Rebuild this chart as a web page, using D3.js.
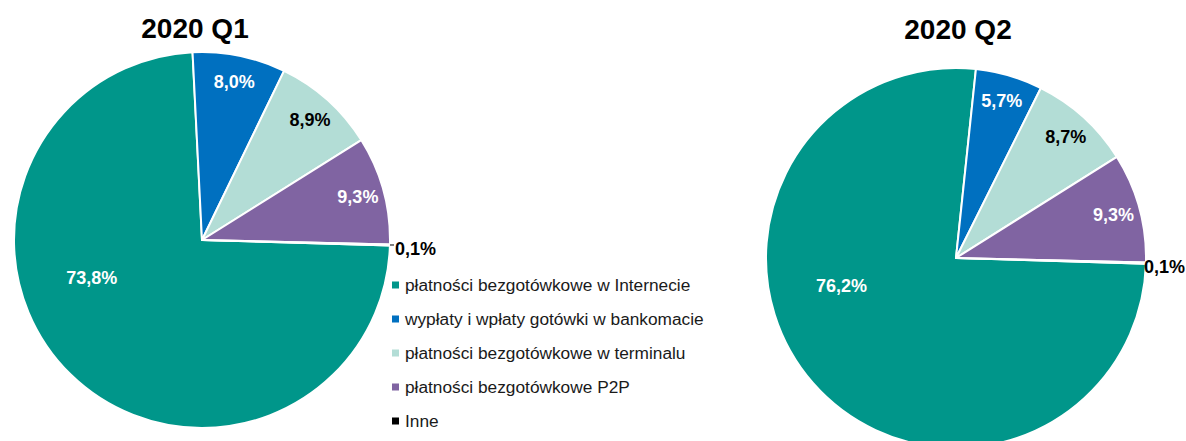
<!DOCTYPE html>
<html lang="pl">
<head>
<meta charset="UTF-8">
<script src="https://d3js.org/d3.v7.min.js"></script>
<style>
    body { margin: 0; background: #fff; }
    svg { font-family: "Liberation Sans", Arial, sans-serif; }
    .title { font-size: 28px; font-weight: bold; fill: #000; }
    .lbl { font-size: 18px; font-weight: bold; }
    .legend text { font-size: 17.3px; fill: #1a1a1a; }
</style>
</head>
<body>
<svg id="chart" width="1186" height="441"></svg>
<script>
// data
const categories = [
    "płatności bezgotówkowe w Internecie",
    "wypłaty i wpłaty gotówki w bankomacie",
    "płatności bezgotówkowe w terminalu",
    "płatności bezgotówkowe P2P",
    "Inne"
];
const titles = ["2020 Q1", "2020 Q2"];
const q1Values = [73.8, 8.0, 8.9, 9.3, 0.1];
const q2Values = [76.2, 5.7, 8.7, 9.3, 0.1];

const colors = ["#00968A", "#0070C0", "#B3DDD6", "#8064A2", "#000000"];
const labelFill = ["#fff", "#fff", "#000", "#fff", "#000"];

const svg = d3.select("#chart");
const W = +svg.attr("width");
const fmt = v => v.toFixed(1).replace(".", ",") + "%";

// first slice starts a bit past 3 o'clock, like the Excel original
const start = 91.7 * Math.PI / 180;
const pie = d3.pie().sort(null).value(d => d)
    .startAngle(start).endAngle(start + 2 * Math.PI);

const charts = [
    { values: q1Values, cx: 202, cy: 240, r: 188, titleX: 195, titleY: 38 },
    { values: q2Values, cx: 956, cy: 258, r: 190, titleX: 958, titleY: 39 }
];

charts.forEach(function(c, ci) {
    const g = svg.append("g").attr("transform", "translate(" + c.cx + "," + c.cy + ")");
    const arc = d3.arc().innerRadius(0).outerRadius(c.r);
    const arcs = pie(c.values);

    g.selectAll("path")
        .data(arcs)
        .enter().append("path")
        .attr("d", arc)
        .attr("fill", (d, i) => colors[i])
        .attr("stroke", "#fff")
        .attr("stroke-width", 2)
        .attr("stroke-linejoin", "round");

    arcs.forEach(function(d, i) {
        const mid = (d.startAngle + d.endAngle) / 2;
        const t = g.append("text")
            .attr("class", "lbl")
            .attr("fill", labelFill[i])
            .attr("dominant-baseline", "central")
            .text(fmt(d.value));

        if (d.value > 50) {
            // big slice: Excel best-fit puts it lower left
            const a = d.startAngle + 0.6 * (d.endAngle - d.startAngle);
            const rr = 0.62 * c.r;
            t.attr("text-anchor", "middle")
                .attr("x", Math.sin(a) * rr).attr("y", -Math.cos(a) * rr);
        } else if (d.value < 1) {
            // tiny slice: label outside, kept inside the window
            const w = t.node().getBBox().width;
            const ey = -Math.cos(mid) * c.r;
            const x = Math.min(c.r + 5, W - 1 - w - c.cx);
            t.attr("text-anchor", "start").attr("x", x).attr("y", ey + 4);
            if (x > c.r + 2) {
                g.append("line")
                    .attr("x1", c.r).attr("x2", x - 1)
                    .attr("y1", ey).attr("y2", ey)
                    .attr("stroke", "#000").attr("stroke-width", 1);
            }
        } else {
            const rr = 0.86 * c.r;
            t.attr("text-anchor", "middle")
                .attr("x", Math.sin(mid) * rr).attr("y", -Math.cos(mid) * rr);
        }
    });

    svg.append("text")
        .attr("class", "title")
        .attr("x", c.titleX)
        .attr("y", c.titleY)
        .attr("text-anchor", "middle")
        .text(titles[ci]);
});

// legend
const legend = svg.append("g")
    .attr("class", "legend")
    .attr("transform", "translate(392,285)");

const rows = legend.selectAll("g")
    .data(categories)
    .enter().append("g")
    .attr("transform", (d, i) => "translate(0," + (i * 34) + ")");

rows.append("rect")
    .attr("x", 0)
    .attr("y", -3.5)
    .attr("width", 7)
    .attr("height", 7)
    .attr("fill", (d, i) => colors[i]);

rows.append("text")
    .attr("x", 13)
    .attr("y", 0)
    .attr("dominant-baseline", "central")
    .text(d => d);
</script>
</body>
</html>
